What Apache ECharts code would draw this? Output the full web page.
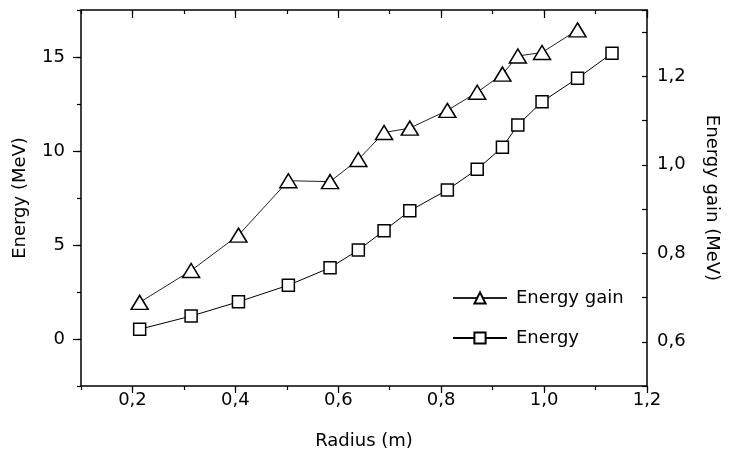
<!DOCTYPE html>
<html>
<head>
<meta charset="utf-8">
<script src="https://cdn.jsdelivr.net/npm/echarts@6/dist/echarts.min.js"></script>
<style>
html,body{margin:0;padding:0;background:#fff;}
#chart{width:732px;height:455px;}
</style>
</head>
<body>
<div id="chart"></div>
<script>
// Data
const radius = [0.214, 0.314, 0.406, 0.503, 0.584, 0.639, 0.689, 0.739, 0.812, 0.870, 0.919, 0.949, 0.996, 1.065, 1.132];
const energy = [0.52, 1.22, 1.98, 2.86, 3.79, 4.73, 5.76, 6.82, 7.93, 9.03, 10.20, 11.38, 12.62, 13.87, 15.20];
const energyGain = [0.689, 0.761, 0.841, 0.964, 0.962, 1.012, 1.073, 1.083, 1.123, 1.164, 1.205, 1.246, 1.254, 1.305];
const xMajorTicks = [0.2, 0.4, 0.6, 0.8, 1.0, 1.2];
const yLeftMajorTicks = [0, 5, 10, 15];
const yRightLabelTicks = [0.6, 0.8, 1.0, 1.2];
const seriesNames = ['Energy gain', 'Energy'];

const FONT = "'DejaVu Sans', 'Liberation Sans', Arial, sans-serif";
const FS = 18;
const comma = v => Number(v).toFixed(1).replace('.', ',');
const black = '#000';
const gridPos = {left: 81, right: 85, top: 10, bottom: 69, outerBoundsMode: 'none'};
const line = {show: true, onZero: false, lineStyle: {color: black, width: 1.5}};
const noLine = {show: false, onZero: false};

const chart = echarts.init(document.getElementById('chart'), null, {renderer: 'canvas'});
chart.setOption({
  animation: false,
  backgroundColor: '#fff',
  textStyle: {fontFamily: FONT},
  grid: [Object.assign({}, gridPos), Object.assign({}, gridPos)],
  legend: {
    orient: 'vertical',
    left: 452, top: 289, padding: 0,
    itemWidth: 54, itemHeight: 14, itemGap: 22,
    data: seriesNames,
    textStyle: {fontSize: FS, color: black, fontFamily: FONT, padding: [0, 0, 0, 4]}
  },
  xAxis: [
    {
      gridIndex: 0, type: 'value', position: 'bottom', min: 0.1, max: 1.2, interval: 0.1,
      axisLine: line,
      axisTick: {show: true, inside: false, length: 4, lineStyle: {color: black, width: 1.2}},
      axisLabel: {show: true, customValues: xMajorTicks, formatter: comma, fontSize: FS, color: black, margin: 5, fontFamily: FONT},
      splitLine: {show: false},
      name: 'Radius (m)', nameLocation: 'middle', nameGap: 46,
      nameTextStyle: {fontSize: FS, color: black, fontFamily: FONT}
    },
    {
      gridIndex: 0, type: 'value', position: 'top', min: 0.1, max: 1.2, interval: 0.1,
      axisLine: line,
      axisTick: {show: true, inside: true, length: 4, lineStyle: {color: black, width: 1.2}},
      axisLabel: {show: false}, splitLine: {show: false}
    },
    {
      gridIndex: 1, type: 'value', position: 'bottom', min: 0.1, max: 1.2,
      axisLine: noLine,
      axisTick: {show: true, inside: false, length: 7, customValues: xMajorTicks, lineStyle: {color: black, width: 1.2}},
      axisLabel: {show: false}, splitLine: {show: false}
    },
    {
      gridIndex: 1, type: 'value', position: 'top', min: 0.1, max: 1.2,
      axisLine: noLine,
      axisTick: {show: true, inside: true, length: 8, customValues: xMajorTicks, lineStyle: {color: black, width: 1.2}},
      axisLabel: {show: false}, splitLine: {show: false}
    }
  ],
  yAxis: [
    {
      gridIndex: 0, type: 'value', position: 'left', min: -2.5, max: 17.5, interval: 2.5,
      axisLine: line,
      axisTick: {show: true, inside: false, length: 4, lineStyle: {color: black, width: 1.2}},
      axisLabel: {show: true, customValues: yLeftMajorTicks, formatter: v => String(v), fontSize: FS, color: black, margin: 16, fontFamily: FONT},
      splitLine: {show: false},
      name: 'Energy (MeV)', nameLocation: 'middle', nameGap: 52, nameRotate: 90,
      nameTextStyle: {fontSize: FS, color: black, fontFamily: FONT}
    },
    {
      gridIndex: 0, type: 'value', position: 'right', min: 0.5, max: 1.35, interval: 0.1,
      axisLine: line,
      axisTick: {show: true, inside: true, length: 5, lineStyle: {color: black, width: 1.2}},
      axisLabel: {show: true, customValues: yRightLabelTicks, formatter: comma, fontSize: FS, color: black, margin: 10, fontFamily: FONT},
      splitLine: {show: false},
      name: 'Energy gain (MeV)', nameLocation: 'middle', nameGap: 56, nameRotate: -90,
      nameTextStyle: {fontSize: FS, color: black, fontFamily: FONT}
    },
    {
      gridIndex: 1, type: 'value', position: 'left', min: -2.5, max: 17.5,
      axisLine: noLine,
      axisTick: {show: true, inside: false, length: 8, customValues: yLeftMajorTicks, lineStyle: {color: black, width: 1.2}},
      axisLabel: {show: false}, splitLine: {show: false}
    }
  ],
  series: [
    {
      name: seriesNames[0], type: 'line', xAxisIndex: 0, yAxisIndex: 1,
      data: energyGain.map((v, i) => [radius[i], v]),
      symbol: 'triangle', symbolSize: [17, 14], showAllSymbol: true,
      itemStyle: {color: '#fff', borderColor: black, borderWidth: 1.5},
      lineStyle: {color: '#222', width: 1},
      z: 3
    },
    {
      name: seriesNames[1], type: 'line', xAxisIndex: 0, yAxisIndex: 0,
      data: energy.map((v, i) => [radius[i], v]),
      symbol: 'rect', symbolSize: 12, showAllSymbol: true,
      itemStyle: {color: '#fff', borderColor: black, borderWidth: 1.5},
      lineStyle: {color: black, width: 1},
      z: 3
    }
  ]
});
</script>
</body>
</html>
